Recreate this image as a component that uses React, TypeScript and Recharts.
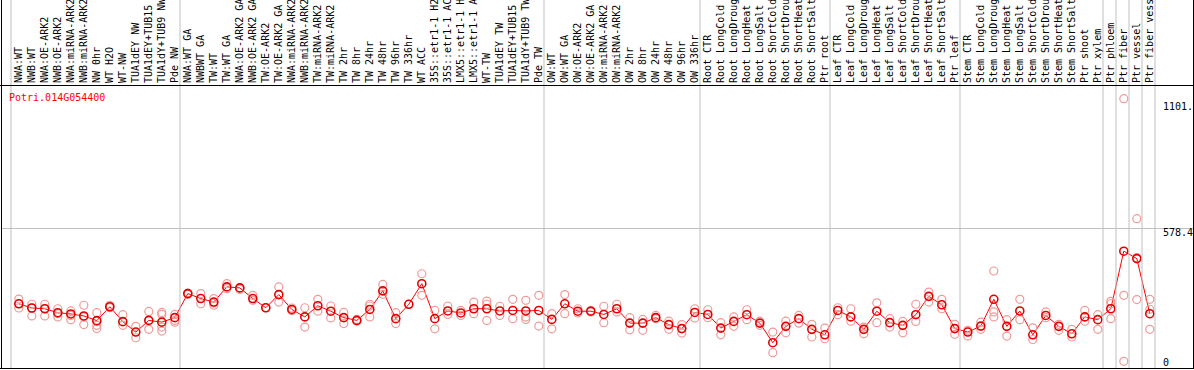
import { ComposedChart, Line, Scatter, XAxis, YAxis } from "recharts";

const GENE = "Potri.014G054400";

const LABELS = [
  "NWA:WT", "NWB:WT", "NWA:OE-ARK2", "NWB:OE-ARK2", "NWA:miRNA-ARK2", "NWB:miRNA-ARK2",
  "NW 0hr", "WT H2O", "WT-NW", "TUA1dEY NW", "TUA1dEY+TUB15", "TUA1dY+TUB9 NW", "Pde NW",
  "NWA:WT GA", "NWBWT GA", "TW:WT", "TW:WT GA", "NWA:OE-ARK2 GA", "NWB:OE-ARK2 GA",
  "TW:OE-ARK2", "TW:OE-ARK2 GA", "NWA:miRNA-ARK2", "NWB:miRNA-ARK2", "TW:miRNA-ARK2",
  "TW:miRNA-ARK2", "TW 2hr", "TW 8hr", "TW 24hr", "TW 48hr", "TW 96hr", "TW 336hr",
  "WT ACC", "35S::etr1-1 H2", "35S::etr1-1 AC", "LMX5::etr1-1 H", "LMX5::etr1-1 A",
  "WT-TW", "TUA1dEY TW", "TUA1dEY+TUB15", "TUA1dY+TUB9 TW", "Pde TW",
  "OW:WT", "OW:WT GA", "OW:OE-ARK2", "OW:OE-ARK2 GA", "OW:miRNA-ARK2", "OW:miRNA-ARK2",
  "OW 2hr", "OW 8hr", "OW 24hr", "OW 48hr", "OW 96hr", "OW 336hr",
  "Root CTR", "Root LongCold", "Root LongDroug", "Root LongHeat", "Root LongSalt",
  "Root ShortCold", "Root ShortDrou", "Root ShortHeat", "Root ShortSalt", "Ptr root",
  "Leaf CTR", "Leaf LongCold", "Leaf LongDroug", "Leaf LongHeat", "Leaf LongSalt",
  "Leaf ShortCold", "Leaf ShortDrou", "Leaf ShortHeat", "Leaf ShortSalt", "Ptr leaf",
  "Stem CTR", "Stem LongCold", "Stem LongDroug", "Stem LongHeat", "Stem LongSalt",
  "Stem ShortCold", "Stem ShortDrou", "Stem ShortHeat", "Stem ShortSalt", "Ptr shoot",
  "Ptr xylem", "Ptr phloem", "Ptr fiber", "Ptr vessel", "Ptr fiber vess",
];

// column index where a new group starts
const GROUP_STARTS = [0, 13, 41, 53, 63, 73, 84, 85, 86, 87, 88];

const MEANS = [
  275, 258, 255, 239, 234, 226, 207, 263, 203, 161, 208, 201, 219,
  316, 296, 282, 343, 339, 296, 259, 312, 252, 222, 267, 245, 219, 208, 252, 327, 215,
  273, 356, 215, 246, 238, 255, 255, 246, 248, 246, 248,
  212, 275, 245, 245, 232, 255, 197, 197, 219, 191, 175, 240,
  232, 177, 204, 231, 197, 118, 184, 215, 172, 150,
  248, 222, 172, 245, 199, 188, 231, 305, 271, 175,
  161, 185, 293, 184, 246, 150, 228, 184, 154, 222, 211,
  255, 487, 457, 235,
];

const REPLICATES = [
  [294, 275, 258], [273, 258, 226], [273, 255, 226], [255, 235, 222], [246, 228, 211],
  [269, 222, 191], [239, 205, 188, 175], [269, 259], [231, 188], [184, 138],
  [244, 208, 172], [240, 232, 181, 165], [232, 208, 201],
  [318, 313], [316, 275], [296, 278, 269], [356, 336], [339, 333], [309, 289], [259],
  [343, 282], [258, 247], [259, 181], [293, 245], [266, 218], [240, 195], [212, 205],
  [273, 266, 222], [353, 313], [239, 195], [273], [396, 309], [248, 174], [266, 232],
  [248, 228], [282, 235], [286, 273, 208], [265, 228], [293, 215], [289, 222, 212],
  [309, 185],
  [235, 174], [312, 235], [255, 238], [248, 242], [265, 199], [273, 242], [219, 170],
  [212, 168], [228, 215], [205, 172], [191, 157], [255, 218],
  [251, 219], [199, 150], [222, 184], [251, 211], [205, 188], [161, 78], [205, 158],
  [228, 197], [192, 141], [177, 134],
  [259, 231], [255, 205], [181, 154], [279, 199], [215, 181], [204, 158], [273, 204],
  [322, 282], [293, 255], [192, 152],
  [168, 145], [201, 172], [407, 242, 222], [211, 145], [293, 211], [178, 131],
  [242, 219], [192, 168], [172, 141], [248, 205], [231, 172],
  [285, 275, 215], [1101.7, 309, 43], [618, 461, 292], [293, 253, 172],
];

const Y_TICKS = [0, 578.4, 1101.7];
const Y_TOP = 1156.8;

const meanData = MEANS.map((v, i) => ({ x: i, y: v }));
const repData = REPLICATES.flatMap((reps, i) => reps.map((v) => ({ x: i, y: v })));

const boundaries = GROUP_STARTS.map((s) => s - 0.6);
const xTicks = [...LABELS.map((_, i) => i), ...boundaries];

const MONO = "DejaVu Sans Mono";

const ColumnTick = (props: any) => {
  const { x, payload } = props;
  const v = payload.value;
  if (!Number.isInteger(v)) {
    return <line x1={x} x2={x} y1={0} y2={369} stroke="#c0c0c0" strokeWidth={1} />;
  }
  return (
    <text
      x={x}
      y={83}
      dy={3}
      transform={`rotate(-90 ${x} 83)`}
      fontFamily={MONO}
      fontSize={10}
      fill="#000"
    >
      {LABELS[v]}
    </text>
  );
};

const ValueTick = (props: any) => {
  const { y, payload } = props;
  const v = payload.value;
  const dy = v === 0 ? -6 : v === Y_TICKS[1] ? 7.5 : 11.5;
  return (
    <g>
      {v === Y_TICKS[1] && <line x1={1} x2={1193} y1={y} y2={y} stroke="#c0c0c0" />}
      <text x={1163} y={y + dy} fontFamily={MONO} fontSize={10} fill="#000">
        {String(v).slice(0, 5)}
      </text>
    </g>
  );
};

export default function App() {
  return (
    <div
      style={{
        position: "absolute",
        left: 0,
        top: 0,
        width: 1194,
        height: 370,
        overflow: "hidden",
        background: "#fff",
      }}
    >
      <ComposedChart
        width={1194}
        height={372}
        data={meanData}
        margin={{ top: 0, right: 0, bottom: 0, left: 11 }}
      >
        <XAxis
          dataKey="x"
          type="number"
          orientation="top"
          height={85}
          domain={[-0.6, 87.4]}
          ticks={xTicks}
          interval={0}
          tick={ColumnTick}
          axisLine={false}
          tickLine={false}
        />
        <YAxis
          type="number"
          orientation="right"
          width={39}
          domain={[0, Y_TOP]}
          ticks={Y_TICKS}
          interval={0}
          tick={ValueTick}
          axisLine={false}
          tickLine={false}
        />
        <Scatter
          data={repData}
          dataKey="y"
          isAnimationActive={false}
          shape={(p: any) => (
            <circle cx={p.cx} cy={p.cy} r={4} fill="none" stroke="#f09999" strokeWidth={1.2} />
          )}
        />
        <Line
          type="linear"
          dataKey="y"
          stroke="#ff0000"
          strokeWidth={1}
          dot={{ r: 4, fill: "none", stroke: "#e00000", strokeWidth: 1.6 }}
          isAnimationActive={false}
        />
      </ComposedChart>
      <svg
        width={1194}
        height={370}
        style={{ position: "absolute", left: 0, top: 0, pointerEvents: "none" }}
      >
        <line x1={1.5} x2={1.5} y1={0} y2={369} stroke="#000" />
        <line x1={1193.5} x2={1193.5} y1={0} y2={369} stroke="#000" />
        <line x1={0} x2={1194} y1={85.5} y2={85.5} stroke="#000" />
        <line x1={0} x2={1194} y1={368.5} y2={368.5} stroke="#000" />
        <text x={9} y={101} fontFamily={MONO} fontSize={10} fill="#ff0000">
          {GENE}
        </text>
      </svg>
    </div>
  );
}
